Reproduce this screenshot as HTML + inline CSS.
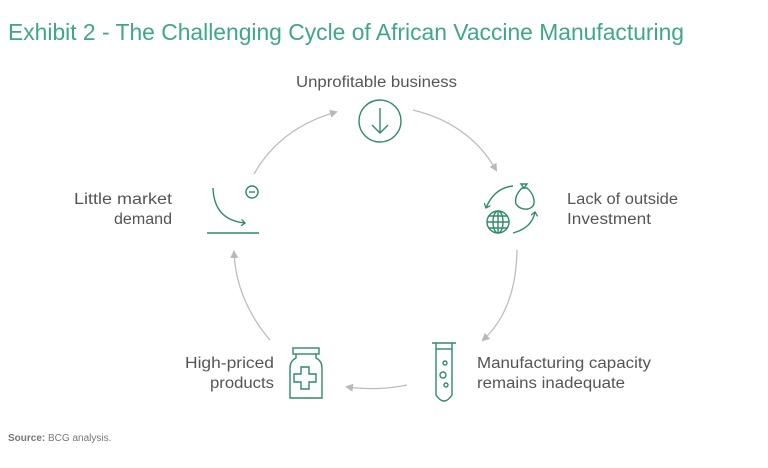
<!DOCTYPE html>
<html><head><meta charset="utf-8"><style>
html,body{margin:0;padding:0;background:#fff;}
svg{display:block;font-family:"Liberation Sans",sans-serif;}
</style></head><body>
<svg width="768" height="468" viewBox="0 0 768 468" xmlns="http://www.w3.org/2000/svg">
<defs>
<marker id="ah" markerWidth="8" markerHeight="8" refX="6" refY="4" orient="auto" markerUnits="userSpaceOnUse">
<path d="M0,0 L8,4 L0,8 Z" fill="#b8b8b8"/></marker>
<marker id="gh" markerWidth="7" markerHeight="7" refX="4" refY="3.5" orient="auto" markerUnits="userSpaceOnUse">
<path d="M0,0 L4,3.5 L0,7" fill="none" stroke="#2e8b68" stroke-width="1.3"/></marker>
</defs>
<text x="8" y="40" font-size="23" fill="#3ea886" textLength="676" lengthAdjust="spacingAndGlyphs">Exhibit 2 - The Challenging Cycle of African Vaccine Manufacturing</text>

<g font-size="15.5" fill="#555" lengthAdjust="spacingAndGlyphs">
<text x="296" y="87" textLength="161" lengthAdjust="spacingAndGlyphs">Unprofitable business</text>
<text x="567" y="204" textLength="111" lengthAdjust="spacingAndGlyphs">Lack of outside</text>
<text x="567" y="224" textLength="84" lengthAdjust="spacingAndGlyphs">Investment</text>
<text x="477" y="368" textLength="174" lengthAdjust="spacingAndGlyphs">Manufacturing capacity</text>
<text x="477" y="388" textLength="148" lengthAdjust="spacingAndGlyphs">remains inadequate</text>
<text x="185" y="368" textLength="89" lengthAdjust="spacingAndGlyphs">High-priced</text>
<text x="210" y="388" textLength="64" lengthAdjust="spacingAndGlyphs">products</text>
<text x="74" y="204" textLength="98" lengthAdjust="spacingAndGlyphs">Little market</text>
<text x="114" y="224" textLength="58" lengthAdjust="spacingAndGlyphs">demand</text>
</g>
<text x="8" y="441" font-size="10" fill="#777"><tspan font-weight="bold">Source:</tspan> BCG analysis.</text>

<g fill="none" stroke="#bdbdbd" stroke-width="1.3">
<path d="M254,174 Q280,128 336,112" marker-end="url(#ah)"/>
<path d="M413,110 Q470,124 496,170" marker-end="url(#ah)"/>
<path d="M517,250 Q516,310 483,340" marker-end="url(#ah)"/>
<path d="M407,385 Q378,391 347,387" marker-end="url(#ah)"/>
<path d="M270,340 Q236,300 234,252" marker-end="url(#ah)"/>
</g>

<g fill="none" stroke="#2e8b68" stroke-width="1.4">
<circle cx="380" cy="121" r="21"/>
<line x1="380" y1="108" x2="380" y2="133"/>
<polyline points="372,125 380,133 388,125"/>
<path d="M213,188 Q214,220 245,223" marker-end="url(#gh)"/>
<line x1="207" y1="233" x2="259" y2="233"/>
<circle cx="252" cy="192" r="6"/>
<line x1="249" y1="192" x2="255" y2="192"/>
<circle cx="498" cy="222" r="11"/>
<ellipse cx="498" cy="222" rx="5" ry="11"/>
<line x1="487" y1="222" x2="509" y2="222"/>
<line x1="489" y1="216" x2="507" y2="216"/>
<line x1="489" y1="228" x2="507" y2="228"/>
<line x1="498" y1="211" x2="498" y2="233"/>
<path d="M513,186 Q494,188 486,208" marker-end="url(#gh)"/>
<path d="M513,233 Q532,228 535,212" marker-end="url(#gh)"/>
<path d="M522,188 Q514,196 516,204 Q520,210 528,209 Q535,207 534,200 Q533,193 527,188 Z"/>
<path d="M521,184 L527,184 L524,188 Z"/>
<line x1="432" y1="343" x2="456" y2="343"/>
<path d="M436,343 L436,395 Q444,407 452,395 L452,343"/>
<line x1="436" y1="349" x2="452" y2="349"/>
<circle cx="445" cy="363" r="2"/>
<circle cx="443" cy="375" r="3"/>
<circle cx="446" cy="385" r="2"/>
<rect x="293" y="348" width="26" height="6"/>
<path d="M296,354 L296,358 Q290,361 290,368 L290,398 L322,398 L322,368 Q322,361 316,358 L316,354"/>
<path d="M301,367 h8 v7 h7 v8 h-7 v7 h-8 v-7 h-7 v-8 h7 Z"/>
</g>
</svg>
</body></html>
